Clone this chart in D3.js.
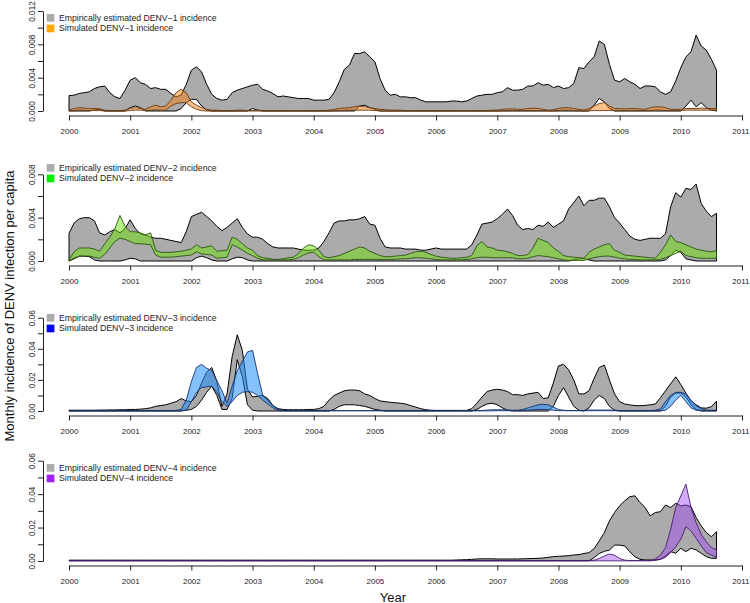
<!DOCTYPE html>
<html><head><meta charset="utf-8">
<script src="https://cdn.jsdelivr.net/npm/d3@7/dist/d3.min.js"></script>
<style>
body{margin:0;background:#fff}
svg{display:block}
text{font-family:"Liberation Sans",Arial,Helvetica,sans-serif}
</style>
</head><body>
<svg id="chart" width="750" height="603"></svg>
<script>
// ---------------- DATA ----------------
const startYear = 2000;            // first monthly value = Jan 2000
const yearTicks = [2000,2001,2002,2003,2004,2005,2006,2007,2008,2009,2010,2011];
const serotypes = ["DENV\u22121","DENV\u22122","DENV\u22123","DENV\u22124"];
const valueUnit = [1e-3, 1e-3, 1e-2, 1e-2];   // series below are stored in these units
const yTickValues = [
  [0,0.002,0.004,0.006,0.008,0.010,0.012],
  [0,0.002,0.004,0.006,0.008],
  [0,0.01,0.02,0.03,0.04,0.05,0.06],
  [0,0.01,0.02,0.03,0.04,0.05,0.06]
];
const yTickLabels = [
  ["0.000","","0.004","","0.008","","0.012"],
  ["0.000","","0.004","","0.008"],
  ["0.00","","0.02","","0.04","","0.06"],
  ["0.00","","0.02","","0.04","","0.06"]
];

// DENV-1 (x 0.001)
const emp1Hi = [1.85,1.9,2.1,2.2,2.3,2.7,2.9,3.0,2.2,1.7,1.5,2.5,
 3.7,4.0,3.4,3.2,2.7,2.8,2.6,2.6,2.1,1.7,1.9,3.2,
 4.9,5.3,4.7,3.2,2.0,1.5,1.3,1.4,2.2,2.5,2.7,2.9,
 3.1,3.2,2.6,2.4,2.1,1.7,1.8,1.7,1.6,1.5,1.5,1.5,
 1.3,1.3,1.3,1.4,2.2,3.5,5.0,5.5,6.9,6.9,7.1,6.5,
 5.9,3.9,2.5,1.9,2.0,1.7,1.7,1.6,1.6,1.3,1.1,1.1,
 1.1,1.1,1.1,1.2,1.2,1.1,1.2,1.5,1.8,1.9,2.0,2.0,
 2.2,2.3,2.8,2.5,2.5,2.6,3.0,3.0,3.4,3.1,3.2,2.8,
 3.0,2.7,2.8,3.3,5.2,5.1,5.9,6.5,8.4,8.0,5.6,3.7,
 3.5,3.9,3.5,3.2,2.7,3.0,3.0,2.9,2.3,2.0,2.3,3.6,
 5.2,6.5,7.1,9.1,7.8,7.3,6.2,4.9];
const emp1Lo = [0,0,0,0,0,0.15,0.2,0,0,0,0,0,
 0.4,0.6,0.4,0,0,0,0,0,0,0,0.3,1.0,
 1.4,1.4,0.6,0.1,0,0,0,0,0,0,0,0,
 0.3,0.1,0,0,0,0,0,0,0,0,0,0,
 0,0,0,0,0,0,0,0,0,0.6,0.7,0.4,
 0.2,0,0,0,0,0,0,0,0,0,0,0,
 0,0,0,0,0,0,0,0,0,0,0,0,
 0,0,0,0,0,0,0,0,0,0,0,0,
 0,0,0,0,0,0,0,0.7,1.5,1.1,0.3,0,
 0,0,0,0,0,0,0,0,0,0,0,0,
 0,0.6,1.3,0.5,1.0,0.4,0.1,0];
const sim1Hi = [0.1,0.3,0.4,0.35,0.3,0.3,0.25,0.1,0.05,0.05,0.05,0.1,
 0.3,0.4,0.3,0.2,0.5,0.7,0.5,0.6,1.3,2.2,2.6,2.2,
 1.1,0.7,0.4,0.2,0.1,0.1,0.05,0.05,0.05,0.1,0.1,0.05,
 0.05,0.1,0.05,0.05,0.05,0.05,0.05,0.05,0.05,0.05,0.05,0.05,
 0.05,0.05,0.05,0.1,0.2,0.3,0.35,0.4,0.5,0.6,0.5,0.4,
 0.3,0.2,0.15,0.1,0.1,0.1,0.05,0.05,0.05,0.05,0.05,0.05,
 0.05,0.05,0.05,0.05,0.05,0.05,0.05,0.05,0.05,0.05,0.05,0.1,
 0.1,0.2,0.25,0.25,0.2,0.2,0.3,0.35,0.3,0.2,0.1,0.15,
 0.3,0.4,0.4,0.3,0.2,0.1,0.3,0.6,0.9,1.0,0.6,0.3,
 0.3,0.25,0.3,0.3,0.25,0.2,0.4,0.5,0.5,0.4,0.2,0.2,
 0.2,0.3,0.3,0.3,0.35,0.3,0.3,0.3];
const sim1Lo = [0,0.05,0.1,0.1,0.05,0.05,0.05,0,0,0,0,0,
 0.05,0.1,0.1,0.05,0.1,0.15,0.1,0.1,0.6,0.9,1.0,1.0,
 0.5,0.2,0.05,0,0,0,0,0,0,0,0,0,
 0,0,0,0,0,0,0,0,0,0,0,0,
 0,0,0,0,0.02,0.05,0.08,0.1,0.1,0.1,0.1,0.1,
 0.05,0.02,0,0,0,0,0,0,0,0,0,0,
 0,0,0,0,0,0,0,0,0,0,0,0,
 0,0.02,0.05,0.05,0.05,0.05,0.05,0.05,0.05,0.05,0.02,0.02,
 0.05,0.1,0.1,0.05,0.02,0,0.02,0.05,0.05,0.05,0.05,0.05,
 0.05,0.05,0.05,0.05,0.05,0.05,0.05,0.1,0.1,0.05,0.05,0.05,
 0.05,0.1,0.1,0.1,0.1,0.1,0.1,0.1];

// DENV-2 (x 0.001)
const emp2Hi = [2.55,3.5,3.9,4.0,4.0,3.7,2.6,2.4,2.7,2.9,2.6,3.0,
 3.8,3.0,2.5,2.4,2.2,2.1,2.1,2.0,1.9,1.8,1.7,2.7,
 4.1,4.3,4.5,4.1,3.7,3.2,2.8,3.1,3.5,3.9,3.1,2.5,
 2.2,2.2,2.0,1.6,1.3,1.2,1.2,1.2,1.2,1.1,1.0,1.0,
 1.0,1.2,1.8,2.6,3.5,3.7,3.7,3.8,3.8,3.9,4.1,3.4,
 3.3,2.1,1.3,1.2,1.2,1.2,1.1,1.1,1.1,1.0,1.0,1.1,
 1.2,1.1,1.1,1.1,1.1,1.1,1.1,1.5,2.4,3.4,3.5,3.6,
 3.9,4.3,4.8,4.2,3.3,2.9,3.0,2.9,3.3,3.2,3.6,3.1,
 3.4,3.7,4.8,5.4,6.0,5.1,5.6,5.6,5.8,5.8,5.0,4.0,
 3.5,2.9,2.3,2.0,1.9,2.0,2.1,2.1,2.1,2.5,5.0,6.3,
 5.9,6.7,6.6,7.1,5.3,4.6,4.1,4.4];
const emp2Lo = [0,0.2,0.45,0.45,0.4,0.1,0,0,0,0,0,0.1,
 0.25,0.2,0,0,0,0,0,0,0,0,0,0,
 0,0.3,0.45,0.3,0.1,0,0,0,0.2,0.35,0.3,0.1,
 0,0,0,0,0,0,0,0,0,0,0,0,
 0,0,0,0,0,0,0,0,0,0,0,0,
 0,0,0,0,0,0,0,0,0,0,0,0,
 0,0,0,0,0,0,0,0,0,0,0,0,
 0,0,0,0,0,0,0,0,0,0,0,0,
 0,0,0,0.1,0.2,0.2,0.1,0,0,0,0,0,
 0,0,0,0,0,0,0,0,0,0.1,0.5,1.0,
 0.8,0.2,0.1,0,0,0,0,0];
const sim2Hi = [0.1,0.85,1.2,1.2,1.2,1.1,0.9,1.6,2.2,3.0,4.2,3.2,
 2.7,2.7,2.6,2.4,2.6,1.0,0.8,0.8,0.8,0.85,0.9,1.0,
 1.1,1.5,1.2,1.3,1.4,0.9,0.95,1.0,2.2,2.0,1.6,1.2,
 1.0,0.5,0.3,0.25,0.15,0.15,0.2,0.3,0.35,0.7,1.2,1.5,
 1.4,1.0,0.4,0.3,0.4,0.5,0.7,0.9,1.1,1.3,1.2,0.9,
 0.7,0.5,0.4,0.4,0.45,0.5,0.55,0.7,0.85,0.9,0.8,0.6,
 0.45,0.35,0.3,0.25,0.25,0.3,0.35,0.5,1.4,1.8,1.3,1.2,
 1.0,0.95,0.85,0.7,0.5,0.5,0.6,1.2,2.1,1.9,1.7,1.2,
 0.9,0.5,0.4,0.35,0.3,0.25,0.8,1.1,1.3,1.5,1.6,1.0,
 0.8,0.55,0.5,0.45,0.4,0.35,0.3,0.25,0.8,1.5,2.4,1.8,
 1.7,1.5,1.3,1.1,1.0,0.9,0.85,0.95];
const sim2Lo = [0,0.25,0.45,0.45,0.45,0.35,0.25,0.6,1.2,1.8,2.1,2.0,
 1.8,1.6,1.6,1.55,1.5,0.55,0.35,0.35,0.35,0.4,0.45,0.5,
 0.55,0.85,0.65,0.6,0.55,0.25,0.3,0.35,1.5,1.3,1.0,0.7,
 0.5,0.25,0.1,0.1,0.1,0.1,0.1,0.1,0.15,0.3,0.55,0.75,
 0.8,0.4,0.1,0.1,0.1,0.1,0.1,0.1,0.15,0.15,0.15,0.15,
 0.15,0.15,0.15,0.15,0.15,0.2,0.2,0.25,0.3,0.3,0.25,0.2,
 0.15,0.1,0.1,0.1,0.1,0.1,0.15,0.2,0.3,0.35,0.35,0.3,
 0.3,0.3,0.3,0.3,0.2,0.2,0.25,0.4,0.5,0.45,0.4,0.3,
 0.2,0.1,0.05,0.05,0.05,0.05,0.2,0.3,0.4,0.45,0.45,0.35,
 0.25,0.2,0.15,0.15,0.1,0.1,0.1,0.1,0.15,0.3,0.5,0.7,
 0.9,0.5,0.4,0.3,0.25,0.25,0.25,0.25];

// DENV-3 (x 0.01)
const emp3Hi = [0.05,0.05,0.05,0.05,0.05,0.05,0.06,0.06,0.07,0.07,0.08,0.08,
 0.1,0.1,0.12,0.15,0.2,0.3,0.35,0.4,0.5,0.6,0.8,0.65,
 0.6,1.0,1.8,2.5,2.8,1.9,0.3,1.1,3.5,4.9,3.9,1.4,
 0.9,0.95,1.0,0.8,0.35,0.15,0.1,0.08,0.08,0.08,0.08,0.1,
 0.1,0.15,0.3,0.7,1.0,1.15,1.3,1.35,1.35,1.3,1.1,1.0,
 0.8,0.65,0.6,0.56,0.53,0.5,0.45,0.35,0.25,0.15,0.08,0.05,
 0.04,0.04,0.04,0.04,0.04,0.04,0.04,0.15,0.5,0.9,1.25,1.35,
 1.4,1.35,1.25,1.05,1.05,1.0,1.1,1.15,1.2,0.8,0.85,1.8,
 2.9,3.0,2.65,2.0,1.1,1.1,1.3,2.1,2.8,2.95,2.0,1.1,
 0.6,0.45,0.39,0.35,0.34,0.36,0.4,0.45,0.85,1.3,1.75,2.2,
 1.7,1.15,0.65,0.4,0.2,0.18,0.28,0.64];
const emp3Lo = [0,0,0,0,0,0,0,0,0,0,0,0,
 0,0,0,0,0,0,0,0,0,0,0,0.05,
 0.1,0.3,0.7,1.2,1.6,1.0,0.1,0.1,0.8,3.3,2.2,0.4,
 0.05,0,0,0,0,0,0,0,0,0,0,0,
 0,0,0,0,0.1,0.3,0.4,0.4,0.4,0.35,0.3,0.2,
 0.1,0.05,0,0,0,0,0,0,0,0,0,0,
 0,0,0,0,0,0,0,0,0.1,0.3,0.45,0.5,
 0.4,0.2,0.05,0,0,0,0,0,0,0,0,0.3,
 1.0,1.5,0.9,0.3,0.05,0,0.2,0.7,1.0,0.8,0.3,0.05,
 0,0,0,0,0,0,0,0,0,0.3,0.9,1.15,
 1.15,0.9,0.4,0.1,0,0,0,0];
const sim3Hi = [0.02,0.02,0.02,0.02,0.02,0.02,0.02,0.02,0.02,0.02,0.02,0.02,
 0.02,0.02,0.02,0.02,0.02,0.02,0.02,0.02,0.03,0.04,0.1,0.7,
 1.9,2.8,3.0,2.75,2.6,1.95,1.3,0.5,1.6,2.6,3.2,3.8,
 3.9,2.4,1.0,0.7,0.35,0.1,0.03,0.03,0.03,0.03,0.03,0.03,
 0.03,0.03,0.03,0.03,0.03,0.03,0.03,0.03,0.03,0.03,0.03,0.03,
 0.03,0.03,0.03,0.03,0.03,0.03,0.03,0.03,0.03,0.03,0.03,0.03,
 0.03,0.03,0.03,0.03,0.03,0.03,0.03,0.03,0.03,0.03,0.06,0.08,
 0.08,0.08,0.06,0.05,0.05,0.1,0.2,0.3,0.4,0.43,0.4,0.25,
 0.1,0.05,0.03,0.03,0.03,0.03,0.06,0.06,0.06,0.06,0.06,0.05,
 0.03,0.03,0.03,0.03,0.03,0.03,0.03,0.05,0.13,0.6,1.0,1.2,
 1.2,1.1,0.7,0.35,0.15,0.06,0.05,0.05];
const sim3Lo = [0.01,0.01,0.01,0.01,0.01,0.01,0.01,0.01,0.01,0.01,0.01,0.01,
 0.01,0.01,0.01,0.01,0.01,0.01,0.01,0.01,0.01,0.01,0.02,0.05,
 0.6,1.2,1.5,1.55,1.6,1.2,0.6,0.3,0.6,1.0,1.2,1.25,
 1.2,1.0,0.7,0.45,0.2,0.05,0.01,0.01,0.01,0.01,0.01,0.01,
 0.01,0.01,0.01,0.01,0.01,0.01,0.01,0.01,0.01,0.01,0.01,0.01,
 0.01,0.01,0.01,0.01,0.01,0.01,0.01,0.01,0.01,0.01,0.01,0.01,
 0.01,0.01,0.01,0.01,0.01,0.01,0.01,0.01,0.01,0.01,0.01,0.01,
 0.02,0.02,0.02,0.02,0.02,0.03,0.05,0.08,0.1,0.1,0.08,0.05,
 0.02,0.02,0.02,0.02,0.02,0.02,0.02,0.02,0.02,0.02,0.02,0.02,
 0.01,0.01,0.01,0.01,0.01,0.01,0.01,0.01,0.01,0.05,0.3,0.7,
 1.0,0.6,0.2,0.05,0.02,0.02,0.02,0.02];

// DENV-4 (x 0.01)
const emp4Hi = [0.05,0.05,0.05,0.05,0.05,0.05,0.05,0.05,0.05,0.05,0.05,0.05,
 0.05,0.05,0.05,0.05,0.05,0.05,0.05,0.05,0.05,0.05,0.05,0.05,
 0.05,0.05,0.05,0.05,0.05,0.05,0.05,0.05,0.05,0.05,0.05,0.05,
 0.05,0.05,0.05,0.05,0.05,0.05,0.05,0.05,0.05,0.05,0.05,0.05,
 0.05,0.05,0.05,0.05,0.05,0.05,0.05,0.05,0.05,0.05,0.05,0.05,
 0.05,0.05,0.05,0.05,0.05,0.05,0.05,0.05,0.05,0.05,0.05,0.05,
 0.05,0.05,0.05,0.05,0.06,0.07,0.08,0.1,0.12,0.13,0.13,0.13,
 0.12,0.12,0.12,0.12,0.12,0.13,0.14,0.15,0.16,0.18,0.22,0.26,
 0.28,0.3,0.32,0.36,0.38,0.45,0.5,0.75,1.2,1.7,2.4,2.9,
 3.3,3.6,3.85,3.9,3.5,3.2,2.7,2.9,2.95,3.35,3.2,3.45,
 3.3,3.35,3.25,2.6,2.1,1.7,1.45,1.75];
const emp4Lo = [0.02,0.02,0.02,0.02,0.02,0.02,0.02,0.02,0.02,0.02,0.02,0.02,
 0.02,0.02,0.02,0.02,0.02,0.02,0.02,0.02,0.02,0.02,0.02,0.02,
 0.02,0.02,0.02,0.02,0.02,0.02,0.02,0.02,0.02,0.02,0.02,0.02,
 0.02,0.02,0.02,0.02,0.02,0.02,0.02,0.02,0.02,0.02,0.02,0.02,
 0.02,0.02,0.02,0.02,0.02,0.02,0.02,0.02,0.02,0.02,0.02,0.02,
 0.02,0.02,0.02,0.02,0.02,0.02,0.02,0.02,0.02,0.02,0.02,0.02,
 0.02,0.02,0.02,0.02,0.02,0.02,0.02,0.02,0.02,0.02,0.02,0.02,
 0.02,0.02,0.02,0.02,0.02,0.02,0.02,0.02,0.02,0.02,0.02,0.02,
 0.02,0.02,0.02,0.02,0.02,0.02,0.02,0.2,0.45,0.58,0.65,0.95,
 0.95,0.9,0.55,0.25,0.1,0.06,0.06,0.06,0.1,0.3,0.56,0.46,
 0.76,0.56,0.76,0.66,0.46,0.26,0.16,0.16];
const sim4Hi = [0.02,0.02,0.02,0.02,0.02,0.02,0.02,0.02,0.02,0.02,0.02,0.02,
 0.02,0.02,0.02,0.02,0.02,0.02,0.02,0.02,0.02,0.02,0.02,0.02,
 0.02,0.02,0.02,0.02,0.02,0.02,0.02,0.02,0.02,0.02,0.02,0.02,
 0.02,0.02,0.02,0.02,0.02,0.02,0.02,0.02,0.02,0.02,0.02,0.02,
 0.02,0.02,0.02,0.02,0.02,0.02,0.02,0.02,0.02,0.02,0.02,0.02,
 0.02,0.02,0.02,0.02,0.02,0.02,0.02,0.02,0.02,0.02,0.02,0.02,
 0.02,0.02,0.02,0.02,0.02,0.02,0.02,0.02,0.02,0.02,0.02,0.02,
 0.02,0.02,0.02,0.02,0.02,0.02,0.02,0.02,0.02,0.02,0.02,0.02,
 0.02,0.02,0.02,0.02,0.02,0.02,0.02,0.05,0.15,0.3,0.42,0.35,
 0.15,0.05,0.03,0.03,0.03,0.03,0.03,0.12,0.35,0.8,1.9,3.2,
 3.9,4.6,3.2,2.3,1.6,1.15,0.8,0.66];
const sim4Lo = [0.01,0.01,0.01,0.01,0.01,0.01,0.01,0.01,0.01,0.01,0.01,0.01,
 0.01,0.01,0.01,0.01,0.01,0.01,0.01,0.01,0.01,0.01,0.01,0.01,
 0.01,0.01,0.01,0.01,0.01,0.01,0.01,0.01,0.01,0.01,0.01,0.01,
 0.01,0.01,0.01,0.01,0.01,0.01,0.01,0.01,0.01,0.01,0.01,0.01,
 0.01,0.01,0.01,0.01,0.01,0.01,0.01,0.01,0.01,0.01,0.01,0.01,
 0.01,0.01,0.01,0.01,0.01,0.01,0.01,0.01,0.01,0.01,0.01,0.01,
 0.01,0.01,0.01,0.01,0.01,0.01,0.01,0.01,0.01,0.01,0.01,0.01,
 0.01,0.01,0.01,0.01,0.01,0.01,0.01,0.01,0.01,0.01,0.01,0.01,
 0.01,0.01,0.01,0.01,0.01,0.01,0.01,0.01,0.01,0.01,0.01,0.01,
 0.01,0.01,0.01,0.01,0.01,0.01,0.01,0.04,0.1,0.22,0.5,0.85,
 1.3,2.05,1.8,1.36,0.9,0.5,0.35,0.22];

const empHi = [emp1Hi, emp2Hi, emp3Hi, emp4Hi];
const empLo = [emp1Lo, emp2Lo, emp3Lo, emp4Lo];
const simHi = [sim1Hi, sim2Hi, sim3Hi, sim4Hi];
const simLo = [sim1Lo, sim2Lo, sim3Lo, sim4Lo];

// ---------------- STYLE / LAYOUT ----------------
const legendColors = ["#FFA500", "#00EE00", "#0000EE", "#A020F0"];
const simFill = ["rgba(245,130,20,0.5)", "rgba(110,225,10,0.5)", "rgba(30,140,250,0.55)", "rgba(160,70,245,0.45)"];
const simStroke = ["#6a3a10", "#2a5510", "#15306e", "#4a1a70"];
const empFill = "#ABABAB";
const zeroY = [111, 261, 411, 561];
const topY  = [11, 174.3, 317.7, 460.7];

const svg = d3.select("#chart");
const x = d3.scaleLinear().domain([2000, 2011]).range([69, 742]);
const tOf = i => startYear + i / 12;

for (let p = 0; p < 4; p++) {
  const ticks = yTickValues[p];
  const y = d3.scaleLinear().domain([0, ticks[ticks.length - 1]]).range([zeroY[p], topY[p]]);
  const u = valueUnit[p];
  const g = svg.append("g");

  const empArea = d3.area()
    .x((d, i) => x(tOf(i)))
    .y0((d, i) => y(empLo[p][i] * u))
    .y1((d, i) => y(empHi[p][i] * u));
  g.append("path").datum(empHi[p]).attr("d", empArea)
    .attr("fill", empFill).attr("stroke", "#000").attr("stroke-width", 1)
    .attr("stroke-linejoin", "round");

  const simArea = d3.area()
    .x((d, i) => x(tOf(i)))
    .y0((d, i) => y(simLo[p][i] * u))
    .y1((d, i) => y(simHi[p][i] * u));
  g.append("path").datum(simHi[p]).attr("d", simArea)
    .attr("fill", simFill[p]).attr("stroke", simStroke[p]).attr("stroke-width", 0.9)
    .attr("stroke-linejoin", "round");

  // y axis
  const yAxis = d3.axisLeft(y).tickValues(ticks)
    .tickFormat((d, i) => yTickLabels[p][i]).tickSize(5).tickSizeOuter(0);
  const ya = g.append("g").attr("transform", "translate(43,0)").call(yAxis);
  ya.select(".domain").attr("stroke", "#222");
  ya.selectAll(".tick line").attr("stroke", "#222");
  ya.selectAll(".tick text")
    .attr("transform", "rotate(-90)")
    .attr("x", 0).attr("y", -8.5).attr("dy", 0)
    .attr("text-anchor", "middle")
    .attr("font-size", 8.2).attr("fill", "#222")
    .attr("font-family", '"Liberation Sans",Arial,sans-serif');

  // x axis
  const xAxis = d3.axisBottom(x).tickValues(yearTicks).tickFormat(d3.format("d"))
    .tickSize(5).tickSizeOuter(0);
  const xa = g.append("g").attr("transform", `translate(0,${zeroY[p] + 4.5})`).call(xAxis);
  xa.select(".domain").attr("stroke", "#222");
  xa.selectAll(".tick line").attr("stroke", "#222");
  xa.selectAll(".tick text").attr("y", 13).attr("dy", "0.71em")
    .attr("font-size", 8.0).attr("fill", "#222")
    .attr("font-family", '"Liberation Sans",Arial,sans-serif')
    .attr("dx", d => d === 2011 ? -1.6 : 0);

  // legend
  const leg = g.append("g");
  const rows = [
    {c: empFill, t: `Empirically estimated ${serotypes[p]} incidence`},
    {c: legendColors[p], t: `Simulated ${serotypes[p]} incidence`}
  ];
  rows.forEach((r, k) => {
    leg.append("rect").attr("x", 46.7).attr("y", zeroY[p] - 97 + k * 10.6)
      .attr("width", 7.7).attr("height", 7.7).attr("fill", r.c);
    leg.append("text").attr("x", 59).attr("y", zeroY[p] - 90.2 + k * 10.6)
      .attr("font-size", 8.7).attr("fill", "#222").text(r.t);
  });
}

svg.append("text").attr("x", 393).attr("y", 601.5).attr("text-anchor", "middle")
  .attr("font-size", 13).attr("fill", "#111").text("Year");
svg.append("text").attr("transform", "translate(13.5,306) rotate(-90)")
  .attr("text-anchor", "middle").attr("font-size", 13).attr("fill", "#111")
  .text("Monthly incidence of DENV infection per capita");
</script>
</body></html>
